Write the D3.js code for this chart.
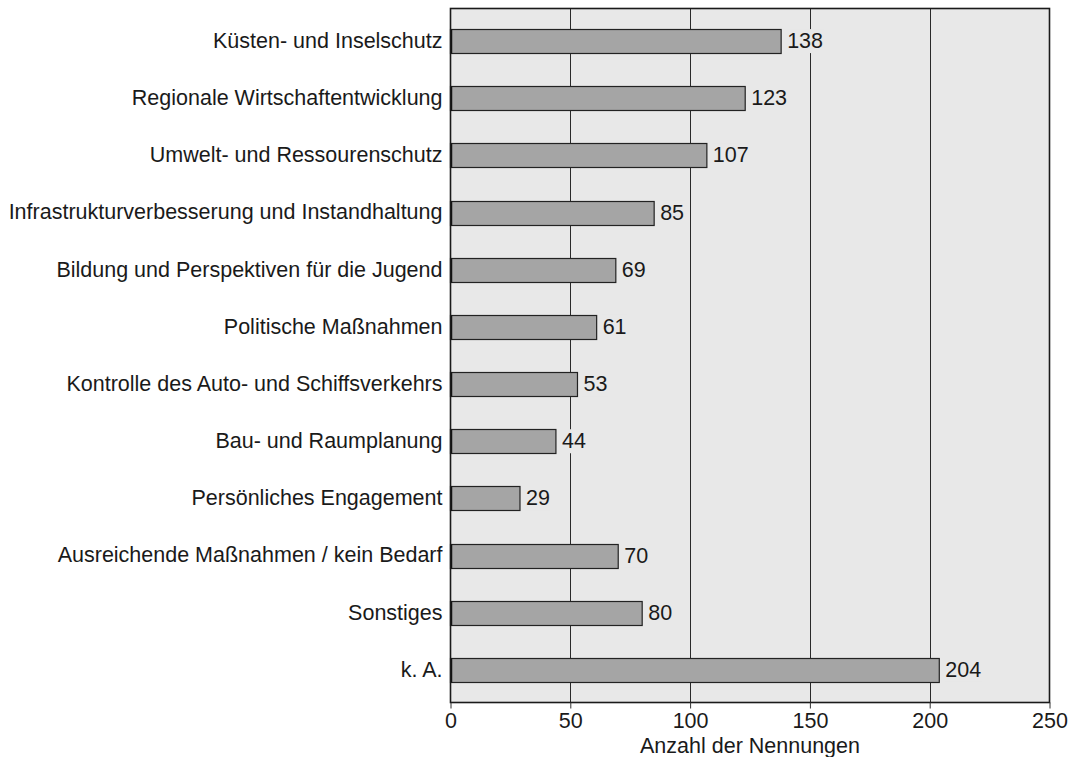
<!DOCTYPE html>
<html><head><meta charset="utf-8">
<script src="https://cdn.jsdelivr.net/npm/d3@7"></script>
<style>
html,body{margin:0;padding:0;background:#fff;}
text{font-family:"Liberation Sans",Arial,Helvetica,sans-serif;fill:#1a1a1a;}
</style></head>
<body>
<svg id="chart" width="1073" height="757"></svg>
<script>
const categories = [
  "Küsten- und Inselschutz",
  "Regionale Wirtschaftentwicklung",
  "Umwelt- und Ressourenschutz",
  "Infrastrukturverbesserung und Instandhaltung",
  "Bildung und Perspektiven für die Jugend",
  "Politische Maßnahmen",
  "Kontrolle des Auto- und Schiffsverkehrs",
  "Bau- und Raumplanung",
  "Persönliches Engagement",
  "Ausreichende Maßnahmen / kein Bedarf",
  "Sonstiges",
  "k. A."
];
const values = [138, 123, 107, 85, 69, 61, 53, 44, 29, 70, 80, 204];
const xTicks = [0, 50, 100, 150, 200, 250];
const xTitle = "Anzahl der Nennungen";

const svg = d3.select("#chart");
const m = {left: 450.5, right: 1049.5, top: 8.5, bottom: 702.5};
const fs = 21.5;

const x = d3.scaleLinear().domain([0, 250]).range([m.left, m.right]);
const y = d3.scaleBand().domain(categories).range([m.top, m.bottom])
  .paddingInner(0.58).paddingOuter(0.36);

// background
svg.append("rect").attr("x", m.left).attr("y", m.top)
  .attr("width", m.right - m.left).attr("height", m.bottom - m.top)
  .attr("fill", "#e8e8e8");

// gridlines
svg.append("g").selectAll("line").data(xTicks.filter(t => t > 0 && t < 250)).join("line")
  .attr("x1", d => Math.round(x(d)) + 0.5).attr("x2", d => Math.round(x(d)) + 0.5)
  .attr("y1", m.top).attr("y2", m.bottom)
  .attr("stroke", "#2a2a2a").attr("stroke-width", 1);

// value labels (with background that masks gridlines)
const lbl = svg.append("g");
values.forEach((v, i) => {
  const cy = y(categories[i]) + y.bandwidth() / 2;
  const t = lbl.append("text")
    .attr("x", x(v) + 6).attr("y", cy)
    .attr("dominant-baseline", "central")
    .attr("font-size", fs).text(v);
  const bb = t.node().getBBox();
  lbl.insert("rect", "text").attr("x", bb.x - 1).attr("y", bb.y)
    .attr("width", bb.width + 2).attr("height", bb.height).attr("fill", "#e8e8e8");
});
lbl.raise();

// bars
svg.append("g").selectAll("rect").data(values).join("rect")
  .attr("x", x(0)).attr("y", (d, i) => Math.round(y(categories[i])) + 0.5)
  .attr("width", d => x(d) - x(0)).attr("height", Math.round(y.bandwidth()))
  .attr("fill", "#a5a5a5").attr("stroke", "#222").attr("stroke-width", 1.2);

// left dark edge of bars
svg.append("g").selectAll("line").data(values).join("line")
  .attr("x1", m.left + 1).attr("x2", m.left + 1)
  .attr("y1", (d, i) => Math.round(y(categories[i])) + 0.5)
  .attr("y2", (d, i) => Math.round(y(categories[i])) + 0.5 + Math.round(y.bandwidth()))
  .attr("stroke", "#111").attr("stroke-width", 1.5);

// frame
svg.append("rect").attr("x", m.left).attr("y", m.top)
  .attr("width", m.right - m.left).attr("height", m.bottom - m.top)
  .attr("fill", "none").attr("stroke", "#1a1a1a").attr("stroke-width", 1.6);

// x axis
const xAxis = d3.axisBottom(x).tickValues(xTicks).tickSize(6).tickPadding(4).tickFormat(d3.format("d"));
const gx = svg.append("g").attr("transform", `translate(0,${m.bottom})`).call(xAxis);
gx.select(".domain").remove();
gx.selectAll(".tick line").attr("stroke", "#333").attr("stroke-width", 1);
gx.selectAll(".tick text").attr("font-size", fs).attr("font-family", "Liberation Sans, Arial, sans-serif").attr("fill", "#1a1a1a");

// y labels
const yAxis = d3.axisLeft(y).tickSize(0).tickPadding(8);
const gy = svg.append("g").attr("transform", `translate(${m.left},0)`).call(yAxis);
gy.select(".domain").remove();
gy.selectAll(".tick text").attr("font-size", fs).attr("font-family", "Liberation Sans, Arial, sans-serif").attr("fill", "#1a1a1a");

// x title
svg.append("text").attr("x", (m.left + m.right) / 2).attr("y", 753)
  .attr("text-anchor", "middle").attr("font-size", fs).text(xTitle);
</script>
</body></html>
